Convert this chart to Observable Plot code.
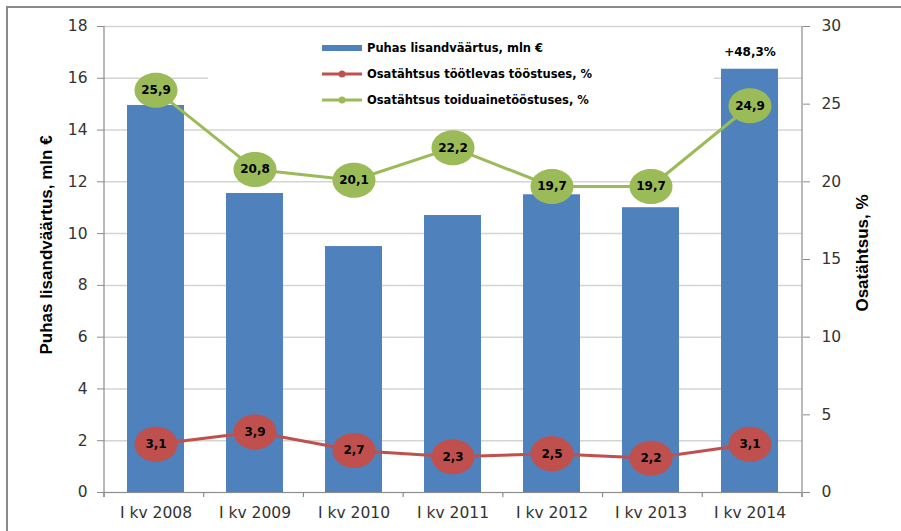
<!DOCTYPE html>
<html><head><meta charset="utf-8">
<script src="https://cdn.jsdelivr.net/npm/d3@7"></script>
<script src="https://cdn.jsdelivr.net/npm/@observablehq/plot@0.6"></script>
<style>
body{margin:0;background:#fff;}
#chart{position:relative;width:901px;height:531px;overflow:hidden;}
</style></head><body><div id="chart"></div>
<script>
// ---- data ----
const categories = ["I kv 2008","I kv 2009","I kv 2010","I kv 2011","I kv 2012","I kv 2013","I kv 2014"];
const valueAdded = [14.95, 11.55, 9.5, 10.7, 11.5, 11.0, 16.35];      // mln €, left axis
const shareManufacturing = [3.1, 3.9, 2.7, 2.3, 2.5, 2.2, 3.1];      // %, right axis
const shareFood = [25.9, 20.8, 20.1, 22.2, 19.7, 19.7, 24.9];        // %, right axis
const leftTicks = [0, 2, 4, 6, 8, 10, 12, 14, 16, 18];
const rightTicks = [0, 5, 10, 15, 20, 25, 30];
const seriesNames = ["Puhas lisandväärtus, mln €", "Osatähtsus töötlevas tööstuses, %", "Osatähtsus toiduainetööstuses, %"];
const leftTitle = "Puhas lisandväärtus, mln €";
const rightTitle = "Osatähtsus, %";
const growthLabel = "+48,3%";

const leftMax = 18, rightMax = 30, k = leftMax / rightMax;
const BLUE = "#4F81BD", RED = "#C0504D", GREEN = "#9BBB59";
const fmt = v => String(v).replace(".", ",");

const bars = categories.map((c, i) => ({cat: c, v: valueAdded[i]}));
const red = categories.map((c, i) => ({cat: c, v: shareManufacturing[i], y: shareManufacturing[i] * k}));
const green = categories.map((c, i) => ({cat: c, v: shareFood[i], y: shareFood[i] * k}));

function ellipse(rx, ry) {
  const c = 0.5523;
  return {draw(ctx) {
    ctx.moveTo(rx, 0);
    ctx.bezierCurveTo(rx, ry * c, rx * c, ry, 0, ry);
    ctx.bezierCurveTo(-rx * c, ry, -rx, ry * c, -rx, 0);
    ctx.bezierCurveTo(-rx, -ry * c, -rx * c, -ry, 0, -ry);
    ctx.bezierCurveTo(rx * c, -ry, rx, -ry * c, rx, 0);
    ctx.closePath();
  }};
}
const ell = ellipse(21.5, 17.5);
const LBL = {fontFamily: "DejaVu Sans", fontWeight: "bold", fontSize: 12, fill: "#000"};

const chart = Plot.plot({
  width: 901, height: 531,
  marginLeft: 104, marginRight: 99, marginTop: 26, marginBottom: 39,
  style: {fontFamily: "DejaVu Sans", background: "#fff", color: "#333"},
  x: {domain: categories, paddingInner: 0.42, paddingOuter: 0.21, label: null},
  y: {domain: [0, leftMax], label: null},
  marks: [
    Plot.gridY(leftTicks, {stroke: "#d4d4d4", strokeOpacity: 1, strokeWidth: 1.5}),
    Plot.barY(bars, {x: "cat", y: "v", fill: BLUE}),
    Plot.ruleY([0], {stroke: "#8c8c8c", strokeWidth: 1.2}),
    Plot.axisY(leftTicks, {anchor: "left", tickSize: 7, tickPadding: 10, fontSize: 15.5, stroke: "#8c8c8c", fill: "#333", label: null}),
    Plot.axisY(rightTicks.map(v => v * k), {anchor: "right", tickSize: 7, tickPadding: 12, fontSize: 15.5, stroke: "#8c8c8c", fill: "#333", tickFormat: d => Math.round(d / k), label: null}),
    Plot.axisX({tickSize: 0, tickPadding: 14, fontSize: 15.5, fill: "#333", label: null}),
    Plot.line(green, {x: "cat", y: "y", stroke: GREEN, strokeWidth: 3}),
    Plot.line(red, {x: "cat", y: "y", stroke: RED, strokeWidth: 3}),
    Plot.dot(green, {x: "cat", y: "y", symbol: ell, fill: GREEN, stroke: null}),
    Plot.dot(red, {x: "cat", y: "y", symbol: ell, fill: RED, stroke: null}),
    Plot.text(green, {x: "cat", y: "y", text: d => fmt(d.v), ...LBL}),
    Plot.text(red, {x: "cat", y: "y", text: d => fmt(d.v), ...LBL}),
    Plot.text(bars.slice(-1), {x: "cat", y: "v", text: () => growthLabel, dy: -17, ...LBL, fontSize: 12})
  ]
});

const svg = d3.select(chart);
const xs = chart.scale("x"), ys = chart.scale("y");
const [x0, x1] = xs.range;
const yTop = ys.apply(leftMax), yBot = ys.apply(0);
const step = (x1 - x0) / categories.length;
const g = svg.append("g").attr("stroke", "#8c8c8c").attr("stroke-width", 1.2);
// vertical axis lines
g.append("line").attr("x1", x0).attr("x2", x0).attr("y1", yTop).attr("y2", yBot + 5);
g.append("line").attr("x1", x1).attr("x2", x1).attr("y1", yTop).attr("y2", yBot + 5);
// category boundary ticks
d3.range(categories.length + 1).forEach(i => {
  g.append("line").attr("x1", x0 + i * step).attr("x2", x0 + i * step).attr("y1", yBot).attr("y2", yBot + 5);
});
// outer frame (top + left)
svg.append("path").attr("d", "M7,531V7H901").attr("fill", "none").attr("stroke", "#8a8a8a").attr("stroke-width", 2);

// axis titles
const tfont = "'Liberation Sans Narrow','Liberation Sans',sans-serif";
svg.append("text").attr("transform", `translate(52,${(yTop + yBot) / 2 - 14}) rotate(-90)`)
  .attr("text-anchor", "middle").attr("font-family", tfont).attr("font-weight", "bold")
  .attr("font-size", 17).attr("fill", "#000").text(leftTitle);
svg.append("text").attr("transform", `translate(868,${(yTop + yBot) / 2 - 6}) rotate(-90)`)
  .attr("text-anchor", "middle").attr("font-family", tfont).attr("font-weight", "bold")
  .attr("font-size", 17).attr("fill", "#000").text(rightTitle);

// legend
const lg = svg.append("g").attr("text-anchor", "start");
lg.append("rect").attr("x", 208).attr("y", 30).attr("width", 506).attr("height", 92).attr("fill", "#fff");
const colors = [BLUE, RED, GREEN];
seriesNames.forEach((name, i) => {
  const yy = 48 + i * 26;
  if (i === 0) {
    lg.append("rect").attr("x", 322).attr("y", yy - 3).attr("width", 40).attr("height", 6).attr("fill", colors[i]);
  } else {
    lg.append("line").attr("x1", 322).attr("x2", 362).attr("y1", yy).attr("y2", yy).attr("stroke", colors[i]).attr("stroke-width", 3);
    lg.append("circle").attr("cx", 342).attr("cy", yy).attr("r", 3.5).attr("fill", colors[i]);
  }
  lg.append("text").attr("x", 367).attr("y", yy).attr("dy", "0.35em").attr("text-anchor", "start")
    .attr("font-family", "DejaVu Sans").attr("font-weight", "bold").attr("font-size", 11.5)
    .attr("fill", "#000").text(name);
});

document.getElementById("chart").appendChild(chart);
</script>
</body></html>
